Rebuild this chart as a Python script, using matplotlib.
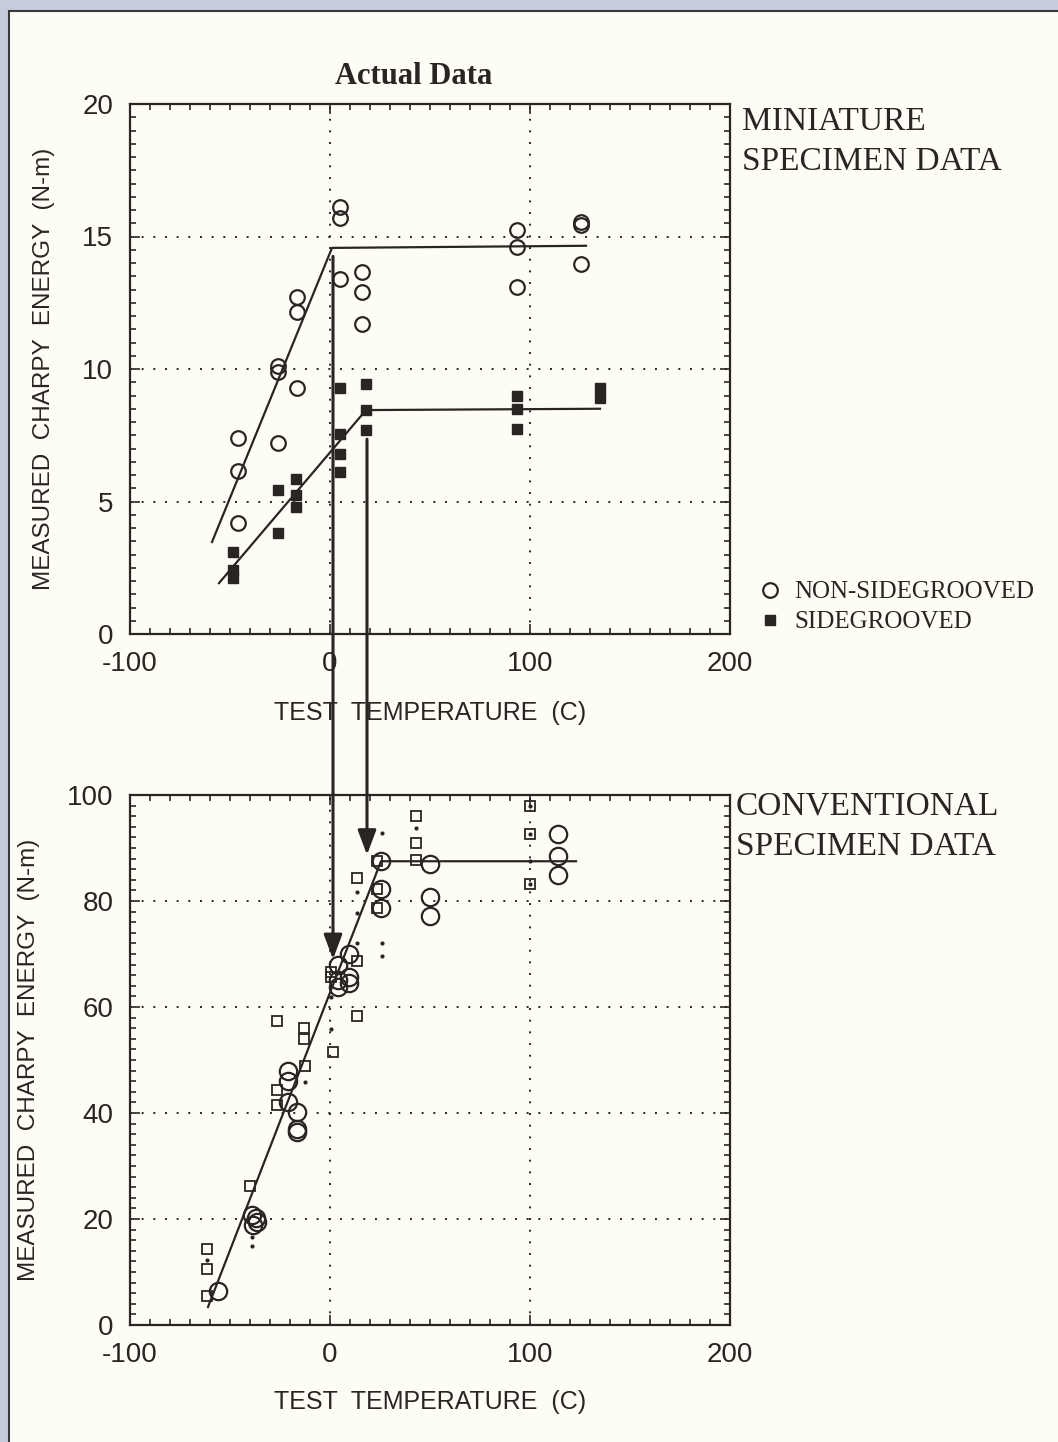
import matplotlib
matplotlib.use("Agg")
import matplotlib.pyplot as plt
from matplotlib.patches import Rectangle, ConnectionPatch
from matplotlib.ticker import MultipleLocator

plt.rcParams['font.family'] = ['Liberation Sans', 'DejaVu Sans']

# ---------------- data ----------------
# Miniature specimens (top panel)
mini_ns_temp = [-46, -46, -46, -26, -26, -26, -16.5, -16.5, -16.5, 5, 5, 5,
                16, 16, 16, 93.5, 93.5, 93.5, 125.5, 125.5, 125.5]
mini_ns_energy = [7.4, 6.15, 4.2, 10.1, 9.9, 7.2, 12.7, 12.15, 9.3, 16.1, 15.7, 13.4,
                  13.65, 12.9, 11.7, 15.25, 14.6, 13.1, 15.55, 15.45, 13.95]
mini_sg_temp = [-48.5, -48.5, -48.5, -26, -26, -17, -17, -17, 5, 5, 5, 5,
                18, 18, 18, 93.5, 93.5, 93.5, 135, 135]
mini_sg_energy = [3.1, 2.4, 2.1, 5.45, 3.8, 5.85, 5.25, 4.8, 9.3, 7.55, 6.8, 6.1,
                  9.45, 8.45, 7.7, 9.0, 8.5, 7.75, 9.3, 8.9]
mini_ns_fit_temp = [-59, 1, 128]
mini_ns_fit_energy = [3.47, 14.57, 14.65]
mini_sg_fit_temp = [-55.5, 18, 135]
mini_sg_fit_energy = [1.92, 8.45, 8.5]

# Conventional specimens (bottom panel)
conv_circ_temp = [-56, -39, -37, -38.5, -36.5, -21, -21, -21, -16.5, -16.5, -16.5,
                  4, 4, 4, 9.5, 9.5, 9.5, 25.5, 25.5, 25.5, 50, 50, 50, 114, 114, 114]
conv_circ_energy = [6.4, 20.8, 20.2, 18.9, 19.4, 47.9, 46, 42.1, 40.1, 37, 36.4,
                    67.9, 65.1, 63.8, 70, 65.7, 64.5, 87.5, 82.3, 78.7, 87, 80.7, 77.2,
                    92.6, 88.5, 85]
conv_sq_temp = [-61.5, -61.5, -61.5, -40, -26.5, -26.5, -26.5, -13, -13, -12.5,
                0.5, 0.5, 1.5, 13.5, 13.5, 13.5, 23.5, 23.5, 23.5, 43, 43, 43,
                100, 100, 100]
conv_sq_energy = [14.3, 10.6, 5.5, 26.2, 57.4, 44.3, 41.5, 56, 54, 48.9,
                  66.6, 65.7, 51.5, 84.3, 68.7, 58.3, 87.5, 82.3, 78.7, 96, 91, 87.7,
                  98, 92.6, 83.2]
conv_dot_temp = [-61.5, -39, -39, -12.5, 0.5, 0.5, 13.5, 13.5, 13.5, 26, 26, 26,
                 43, 100, 100, 100, 100]
conv_dot_energy = [12.3, 16.6, 14.9, 45.9, 61.9, 55.8, 81.7, 77.7, 72, 92.8, 72, 69.6,
                   93.8, 98, 92.6, 87.6, 83.2]
conv_fit_temp = [-61, 25.5, 123]
conv_fit_energy = [3.4, 87.5, 87.5]

# Transfer arrows (mini -> conventional)
arrow_temp = [1.5, 18.5]
arrow_start_mini = [14.25, 7.35]
arrow_end_conv = [69.0, 88.7]

x_ticks = [-100, 0, 100, 200]
x_ticklabels = ['-100', '0', '100', '200']
mini_y_ticks = [0, 5, 10, 15, 20]
conv_y_ticks = [0, 20, 40, 60, 80, 100]

# ---------------- style ----------------
INK = '#2a2522'
PAGE = '#fdfdf6'
W, H = 1058, 1442

fig = plt.figure(figsize=(W / 100, H / 100), dpi=100)
fig.patch.set_facecolor('#c6cbde')
fig.add_artist(Rectangle((9 / W, -0.01), 1.1, 1 - 11 / H + 0.01, transform=fig.transFigure,
                         facecolor=PAGE, edgecolor='#3a3a3a', lw=1.5, zorder=0))

ax1 = fig.add_axes([130 / W, 1 - 634 / H, 600 / W, 530 / H])
ax2 = fig.add_axes([130 / W, 1 - 1325 / H, 600 / W, 530 / H])


def style_axes(ax, yticks, yminor, ylabel, ylab_x, xlab_y):
    ax.set_facecolor('none')
    ax.set_xlim(-100, 200)
    ax.set_ylim(yticks[0], yticks[-1])
    ax.set_xticks(x_ticks)
    ax.set_xticklabels(x_ticklabels)
    ax.set_yticks(yticks)
    ax.xaxis.set_minor_locator(MultipleLocator(10))
    ax.yaxis.set_minor_locator(MultipleLocator(yminor))
    ax.tick_params(which='both', direction='in', top=True, right=True,
                   colors=INK, labelcolor=INK, width=1.2)
    ax.tick_params(which='major', length=7, labelsize=20, pad=12)
    ax.tick_params(which='minor', length=4.5)
    for s in ax.spines.values():
        s.set_linewidth(1.6)
        s.set_color(INK)
    ax.grid(True, which='major', linestyle=(0, (1, 5)), lw=1.4, color=INK)
    ax.set_xlabel('TEST  TEMPERATURE  (C)', fontsize=18, color=INK)
    ax.set_ylabel(ylabel, fontsize=17.5, color=INK)
    ax.yaxis.set_label_coords(ylab_x, 0.5)
    ax.xaxis.set_label_coords(0.5, xlab_y)


style_axes(ax1, mini_y_ticks, 0.5, 'MEASURED  CHARPY  ENERGY  (N-m)', -0.125, -0.127)
style_axes(ax2, conv_y_ticks, 2, 'MEASURED  CHARPY  ENERGY  (N-m)', -0.15, -0.123)

# top panel data
h_ns, = ax1.plot(mini_ns_temp, mini_ns_energy, 'o', ms=10.5, mfc='none', mec=INK, mew=1.6,
                 zorder=3)
h_sg, = ax1.plot(mini_sg_temp, mini_sg_energy, 's', ms=7, mfc=INK, mec=INK, mew=1,
                 zorder=3)
ax1.plot(mini_ns_fit_temp, mini_ns_fit_energy, '-', color=INK, lw=1.6, zorder=2)
ax1.plot(mini_sg_fit_temp, mini_sg_fit_energy, '-', color=INK, lw=1.6, zorder=2)

# bottom panel data
ax2.plot(conv_circ_temp, conv_circ_energy, 'o', ms=12.5, mfc='none', mec=INK, mew=1.6,
         zorder=3)
ax2.plot(conv_sq_temp, conv_sq_energy, 's', ms=7.5, mfc='none', mec=INK, mew=1.3, zorder=3)
ax2.plot(conv_dot_temp, conv_dot_energy, 'o', ms=3, mfc=INK, mec=INK, mew=0, zorder=3)
ax2.plot(conv_fit_temp, conv_fit_energy, '-', color=INK, lw=1.6, zorder=2)

# legend
ax1.legend([h_ns, h_sg], ['NON-SIDEGROOVED', 'SIDEGROOVED'], loc='center left',
           bbox_to_anchor=(744 / W, 1 - 607 / H), bbox_transform=fig.transFigure,
           frameon=False, prop={'family': 'Liberation Serif', 'size': 18},
           handletextpad=0.4, handlelength=1.1, labelspacing=0.3, borderpad=0,
           labelcolor=INK)

# transfer arrows
for t, ys, ye in zip(arrow_temp, arrow_start_mini, arrow_end_conv):
    con = ConnectionPatch(xyA=(t, ys), coordsA=ax1.transData,
                          xyB=(t, ye), coordsB=ax2.transData,
                          arrowstyle='-|>,head_length=0.75,head_width=0.28',
                          mutation_scale=20, lw=2.2, color=INK, zorder=10)
    fig.add_artist(con)

# texts
fig.text(414 / W, 1 - 76 / H, 'Actual Data', ha='center', va='center',
         family='Liberation Serif', weight='bold', fontsize=22, color=INK)
fig.text(742 / W, 1 - 122 / H, 'MINIATURE', ha='left', va='center',
         family='Liberation Serif', fontsize=24, color=INK)
fig.text(742 / W, 1 - 162 / H, 'SPECIMEN DATA', ha='left', va='center',
         family='Liberation Serif', fontsize=24, color=INK)
fig.text(736 / W, 1 - 806 / H, 'CONVENTIONAL', ha='left', va='center',
         family='Liberation Serif', fontsize=24, color=INK)
fig.text(736 / W, 1 - 847 / H, 'SPECIMEN DATA', ha='left', va='center',
         family='Liberation Serif', fontsize=24, color=INK)

fig.savefig('out.png', dpi=100, facecolor=fig.get_facecolor())
